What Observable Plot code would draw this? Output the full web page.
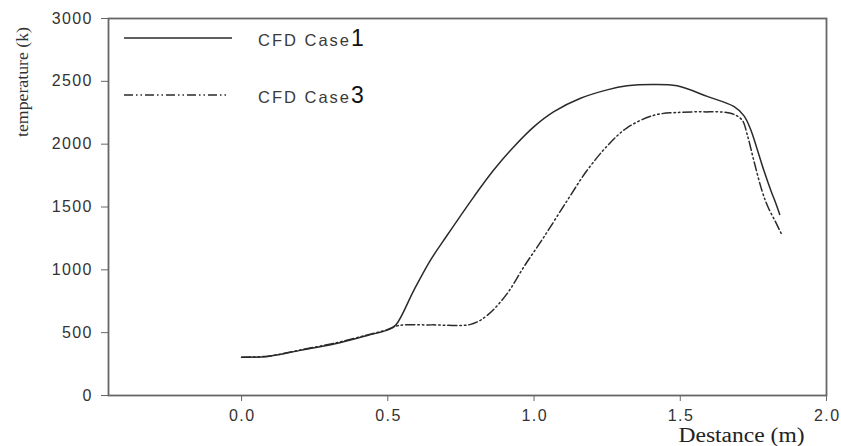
<!DOCTYPE html>
<html>
<head>
<meta charset="utf-8">
<script src="https://cdn.jsdelivr.net/npm/d3@7"></script>
<script src="https://cdn.jsdelivr.net/npm/@observablehq/plot@0.6"></script>
<style>
  body { margin: 0; background: #fff; }
  #wrap { position: relative; width: 841px; height: 446px; }
  .leg { position: absolute; left: 122px; height: 24px; display: flex; align-items: center; }
  .leg svg { margin-right: 23px; flex: none; }
  .leg .txt { font-family: "Liberation Sans", Arial, sans-serif; font-size: 16.5px; letter-spacing: 2px; color: #3a3a3a; white-space: nowrap; }
  .leg .num { font-family: "Liberation Sans", Arial, sans-serif; font-size: 23px; color: #111; letter-spacing: 0; }
  #ylab { position: absolute; left: 0; top: 0; }
</style>
</head>
<body>
<div id="wrap"></div>
<script>
const case1X = [0, 0.09, 0.2, 0.32, 0.43, 0.5, 0.527, 0.589, 0.646, 0.703, 0.794, 0.862, 0.931, 1.0, 1.068, 1.159, 1.25, 1.318, 1.404, 1.489, 1.592, 1.683, 1.718, 1.74, 1.763, 1.786, 1.81, 1.825, 1.84];
const case1T = [305, 311, 359, 412, 478, 522, 560, 837, 1077, 1275, 1581, 1794, 1980, 2140, 2259, 2365, 2432, 2464, 2475, 2464, 2380, 2300, 2225, 2120, 1960, 1790, 1630, 1540, 1441];
const case3X = [0, 0.09, 0.2, 0.32, 0.43, 0.5, 0.535, 0.65, 0.783, 0.84, 0.908, 0.965, 1.034, 1.113, 1.181, 1.25, 1.318, 1.41, 1.489, 1.58, 1.672, 1.711, 1.729, 1.752, 1.78, 1.8, 1.825, 1.845];
const case3T = [305, 313, 362, 418, 482, 525, 556, 562, 566, 638, 811, 1023, 1262, 1550, 1790, 1985, 2130, 2230, 2252, 2257, 2246, 2193, 2075, 1865, 1625, 1500, 1385, 1290];
const xTicks = [0, 0.5, 1.0, 1.5, 2.0];
const yTicks = [0, 500, 1000, 1500, 2000, 2500, 3000];
const seriesNames = ["CFD Case 1", "CFD Case 3"];
const xLabel = "Destance (m)";
const yLabel = "temperature (k)";

const case1 = case1X.map((x, i) => ({x, t: case1T[i]}));
const case3 = case3X.map((x, i) => ({x, t: case3T[i]}));

const lineColor = "#2a2a2a";
const axisColor = "#666";
const dash3 = "9,3,1.5,3,1.5,3";
const tickFont = { fontFamily: "'Liberation Sans', Arial, sans-serif", fontSize: 16 };

const chart = Plot.plot({
  width: 841,
  height: 446,
  marginLeft: 108,
  marginRight: 15,
  marginTop: 18,
  marginBottom: 51,
  style: { fontFamily: "'Liberation Sans', Arial, sans-serif", fontSize: "16px", color: "#333", background: "#fff" },
  x: { domain: [-0.455, 2.0], label: null },
  y: { domain: [0, 3000], label: null },
  marks: [
    Plot.frame({ stroke: axisColor, strokeWidth: 1.8 }),
    Plot.axisX({ ticks: xTicks, tickFormat: d3.format(".1f"), tickSize: 6, tickPadding: 8, stroke: axisColor, fill: "#333", ...tickFont, label: null }),
    Plot.axisY({ ticks: yTicks, tickFormat: d3.format("d"), tickSize: 7, tickPadding: 10, stroke: axisColor, fill: "#333", ...tickFont, label: null }),
    Plot.line(case1, { x: "x", y: "t", stroke: lineColor, strokeWidth: 1.5, curve: "catmull-rom" }),
    Plot.line(case3, { x: "x", y: "t", stroke: lineColor, strokeWidth: 1.5, strokeDasharray: dash3, curve: "catmull-rom" }),
    Plot.text([xLabel], { frameAnchor: "bottom-right", dy: 46, dx: -22, fontFamily: "'Liberation Serif', 'Times New Roman', serif", fontSize: 20, fill: "#222", textAnchor: "end", lineAnchor: "bottom" })
  ]
});

const wrap = document.getElementById("wrap");
wrap.appendChild(chart);

// widen tick labels a little (reference glyphs are horizontally stretched)
chart.querySelectorAll("g[aria-label='x-axis tick label'] text, g[aria-label='y-axis tick label'] text").forEach(t => {
  t.style.letterSpacing = "1.4px";
});
chart.querySelectorAll("g[aria-label='y-axis tick label'] text").forEach(t => {
  t.setAttribute("dx", "1.4");
});
chart.querySelectorAll("g[aria-label='x-axis tick label'] text").forEach(t => {
  t.setAttribute("dx", "0.7");
});
// stretch x label to the reference's width
chart.querySelectorAll("g[aria-label='text'] text").forEach(t => {
  if (t.textContent === xLabel) { t.setAttribute("textLength", "126"); t.setAttribute("lengthAdjust", "spacingAndGlyphs"); }
});

// Y axis label (rotated serif)
const ylab = document.createElement("div");
ylab.id = "ylab";
ylab.innerHTML = `<svg width="40" height="160"><text transform="translate(28,82) rotate(-90)" text-anchor="middle" font-family="'Liberation Serif','Times New Roman',serif" font-size="16.5" fill="#333" textLength="110" lengthAdjust="spacingAndGlyphs">${yLabel}</text></svg>`;
wrap.appendChild(ylab);

// Legend
const legTops = [26, 83];
const legLen = [108, 103];
const dashes = [null, dash3];
seriesNames.forEach((name, i) => {
  const parts = name.split(" ");
  const num = parts.pop();
  const d = document.createElement("div");
  d.className = "leg";
  d.style.top = legTops[i] + "px";
  d.innerHTML = `<svg width="113" height="24"><line x1="2" x2="${2 + legLen[i]}" y1="12" y2="12" stroke="${lineColor}" stroke-width="1.5" ${dashes[i] ? `stroke-dasharray="${dashes[i]}"` : ""}/></svg><span class="txt">${parts.join(" ")}<span class="num">${num}</span></span>`;
  wrap.appendChild(d);
});
</script>
</body>
</html>
